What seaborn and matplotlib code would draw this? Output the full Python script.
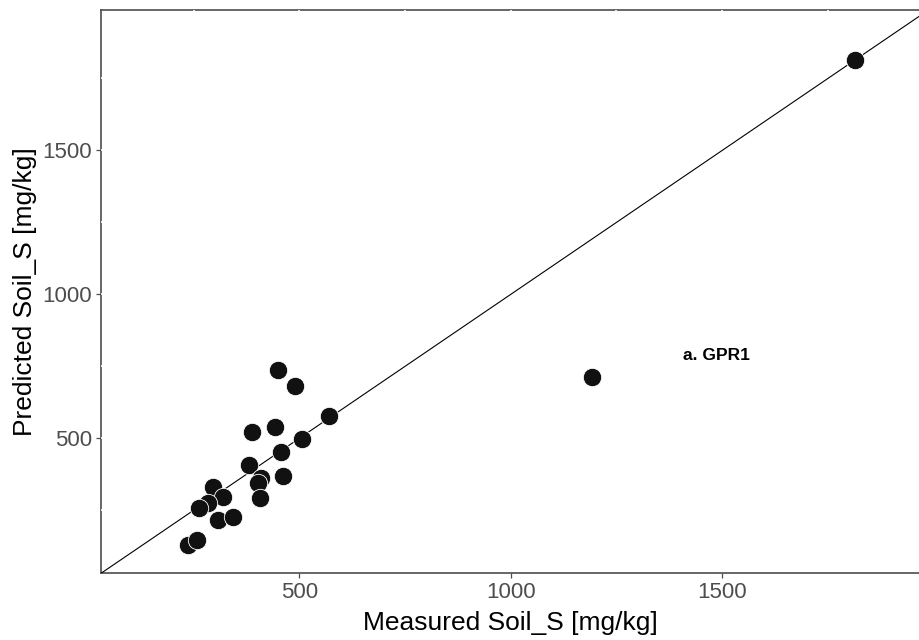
import matplotlib
matplotlib.use("Agg")
import matplotlib.pyplot as plt
import seaborn as sns
import pandas as pd

measured = [1814, 1193, 450, 489, 570, 387, 443, 507, 456, 381, 408, 402,
            460, 407, 295, 318, 284, 263, 308, 342, 237, 258]
predicted = [1815, 712, 737, 683, 578, 523, 538, 497, 451, 407, 360, 345,
             369, 291, 332, 297, 276, 259, 216, 227, 129, 146]
x_ticks = [500, 1000, 1500]
y_ticks = [500, 1000, 1500]
grid_lines = [250, 500, 750, 1000, 1250, 1500, 1750]
x_label = "Measured Soil_S [mg/kg]"
y_label = "Predicted Soil_S [mg/kg]"
annotation = "a. GPR1"

sns.set_style("white")
plt.rcParams['font.family'] = ['Liberation Sans', 'DejaVu Sans']

df = pd.DataFrame({"Measured": measured, "Predicted": predicted})

fig = plt.figure(figsize=(9.2, 6.4), dpi=100)
ax = fig.add_axes([101 / 920, 67 / 640, 819 / 920, 563 / 640])

xlim = (30.5, 1968)
ylim = (31.6, 1988)
ax.set_xlim(*xlim)
ax.set_ylim(*ylim)

# white grid lines (only visible where they cross the frame lines)
for g in grid_lines:
    ax.axvline(g, color="white", lw=1.2, zorder=3)
    ax.axhline(g, color="white", lw=1.2, zorder=3)

# 1:1 line
ax.plot([0, 2000], [0, 2000], color="black", lw=0.8, zorder=3.6)

sns.scatterplot(data=df, x="Measured", y="Predicted", ax=ax, s=175,
                color="#111111", edgecolor="white", linewidth=0.6, zorder=4)

ax.text(1408, 786, annotation, fontsize=12.5, fontweight="bold",
        color="black", ha="left", va="center", zorder=5)

ax.set_xticks(x_ticks)
ax.set_yticks(y_ticks)
ax.set_xlabel(x_label, fontsize=19, color="black", labelpad=6)
ax.set_ylabel(y_label, fontsize=19, color="black", labelpad=4)
ax.tick_params(axis="both", which="major", labelsize=16, labelcolor="#4d4d4d",
               color="#4d4d4d", length=3.5, width=0.9, pad=3, direction="out",
               bottom=True, left=True, top=False, right=False)

for side in ["left", "bottom", "top"]:
    ax.spines[side].set_visible(True)
    ax.spines[side].set_color("#4d4d4d")
    ax.spines[side].set_linewidth(1.2)
ax.spines["right"].set_visible(False)
ax.spines["bottom"].set_zorder(3.5)

fig.savefig("out.png", dpi=100)
